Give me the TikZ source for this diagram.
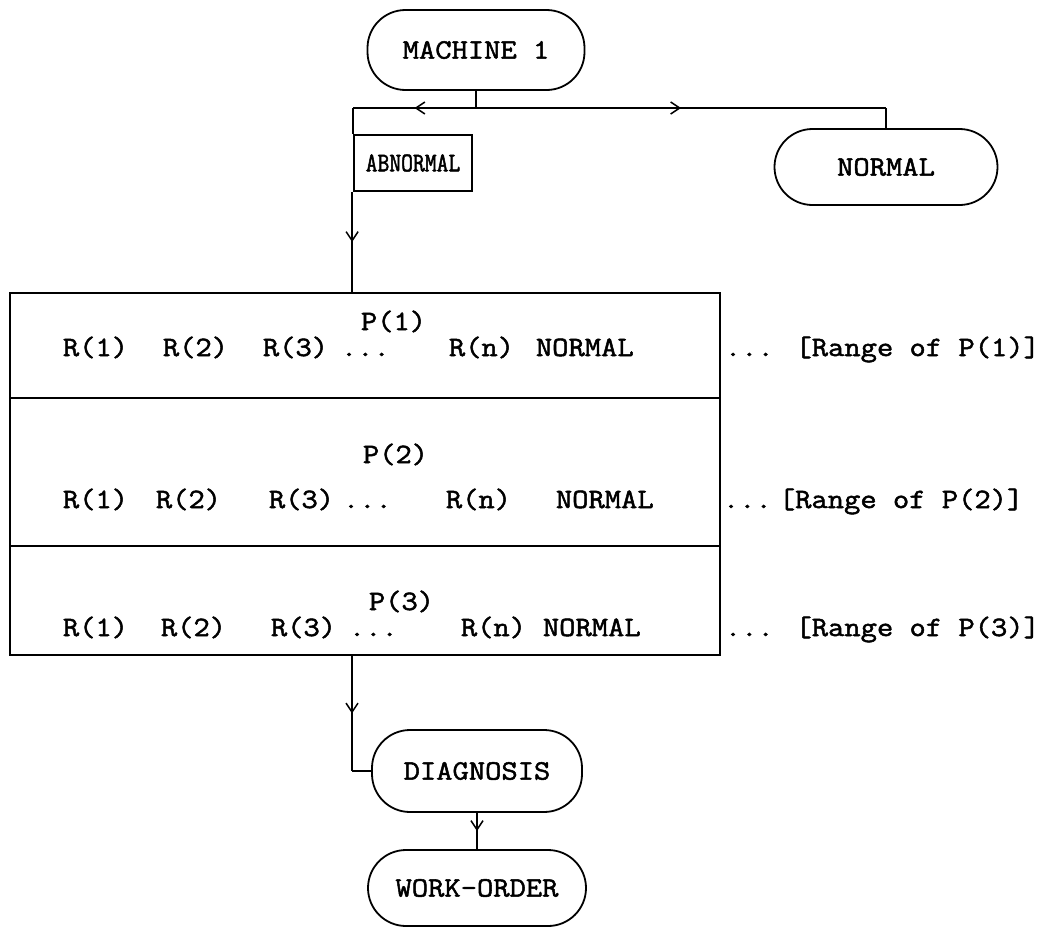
\documentclass[tikz,border=0pt]{standalone}
\usepackage{fontspec}
\setmainfont{Latin Modern Mono}[FakeStretch=1.13,FakeBold=1.8]
\newfontfamily\abnfont{Latin Modern Mono}[FakeStretch=0.85,FakeBold=1.8]
\usetikzlibrary{arrows.meta,decorations.markings}
\begin{document}
\begin{tikzpicture}[x=1pt,y=-1pt,
  line width=1.8pt,
  every node/.style={font=\fontsize{28}{32}\selectfont},
  term/.style={draw,rounded corners=38pt,inner sep=0pt,line width=1.8pt},
  procbox/.style={draw,inner sep=0pt,line width=1.8pt},
  tok/.style={anchor=base west,inner sep=0pt},
  midarrow/.style={postaction={decorate},decoration={markings,
     mark=at position 0.5 with {\arrow[line width=1.5pt]{Straight Barb[length=9pt,width=12pt]}}}}
]
\useasboundingbox (0,0) rectangle (1052,929);
% nodes
\node[term,minimum width=217pt,minimum height=80pt] (m1) at (476,50) {MACHINE 1};
\node[procbox,minimum width=118pt,minimum height=56pt,font=\abnfont\fontsize{27}{30}\selectfont] (abn) at (413,163) {ABNORMAL};
\node[term,minimum width=223pt,minimum height=76pt] (nor) at (886,167) {NORMAL};
\node[procbox,minimum width=710pt,minimum height=362pt] (bigbox) at (365,474) {};
\node[term,minimum width=210pt,minimum height=82pt] (diag) at (477,771) {DIAGNOSIS};
\node[term,minimum width=218pt,minimum height=76pt] (wo) at (477,888) {WORK-ORDER};
% dividers
\coordinate (d1l) at (10,398); \coordinate (d1r) at (720,398);
\coordinate (d2l) at (10,546); \coordinate (d2r) at (720,546);
\draw[line width=1.2pt] (d1l) -- (d1r);
\draw[line width=1.2pt] (d2l) -- (d2r);
% row 1
\node[tok] (p1) at (360,330) {P(1)};
\node[tok] (r11) at (62,356) {R(1)};
\node[tok] (r12) at (162,356) {R(2)};
\node[tok] (r13) at (262,356) {R(3)};
\node[tok] (r1d) at (340,356) {...};
\node[tok] (r1n) at (448,356) {R(n)};
\node[tok] (r1N) at (535,356) {NORMAL};
\node[tok] (g1) at (724,356) {... [Range of P(1)]};
% row 2
\node[tok] (p2) at (362,463) {P(2)};
\node[tok] (r21) at (62,508) {R(1)};
\node[tok] (r22) at (155,508) {R(2)};
\node[tok] (r23) at (268,508) {R(3)};
\node[tok] (r2d) at (342,508) {...};
\node[tok] (r2n) at (445,508) {R(n)};
\node[tok] (r2N) at (555,508) {NORMAL};
\node[tok] (g2a) at (722,508) {...};
\node[tok] (g2b) at (778,508) {[Range of P(2)]};
% row 3
\node[tok] (p3) at (368,610) {P(3)};
\node[tok] (r31) at (62,636) {R(1)};
\node[tok] (r32) at (160,636) {R(2)};
\node[tok] (r33) at (270,636) {R(3)};
\node[tok] (r3d) at (348,636) {...};
\node[tok] (r3n) at (460,636) {R(n)};
\node[tok] (r3N) at (542,636) {NORMAL};
\node[tok] (g3) at (724,636) {... [Range of P(3)]};
% connectors
\coordinate (j) at (m1.south |- 0,108);
\coordinate (jl) at (abn.north west |- j);
\coordinate (jr) at (nor.north |- j);
\draw (m1.south) -- (j);
\draw[midarrow] (j) -- (jl);
\draw (jl) -- (abn.north west);
\draw[midarrow] (j) -- (jr);
\draw (jr) -- (nor.north);
\coordinate (a1) at ([xshift=-1pt]abn.south west);
\coordinate (a2) at (a1 |- bigbox.north);
\draw[midarrow] (a1) -- (a2);
\coordinate (b0) at (352,655);
\coordinate (b1) at (b0 |- bigbox.south);
\coordinate (b2) at (b1 |- diag.west);
\draw[midarrow] (b1) -- (b2);
\draw (b2) -- (diag.west);
\draw[midarrow] (diag.south) -- (wo.north);
\end{tikzpicture}
\end{document}
